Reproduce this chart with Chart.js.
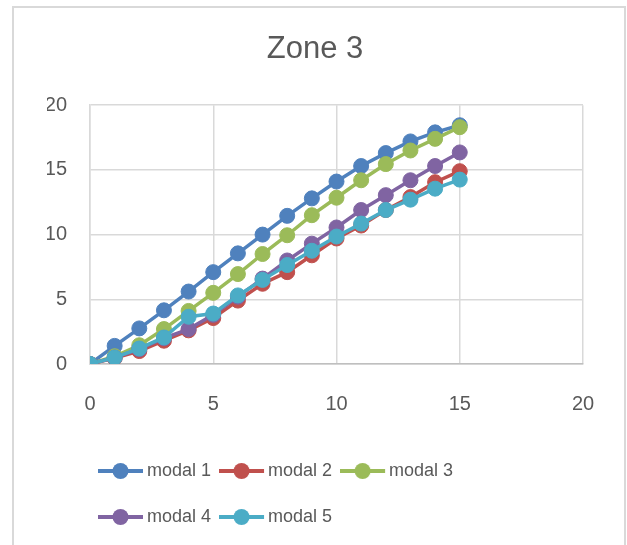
<!DOCTYPE html>
<html>
<head>
<meta charset="utf-8">
<script src="https://cdn.jsdelivr.net/npm/chart.js@4/dist/chart.umd.min.js"></script>
<style>
    html, body { margin: 0; padding: 0; background: #fff; }
    .frame {
        position: absolute;
        left: 12px;
        top: 6px;
        width: 610px;
        height: 560px;
        border: 2px solid #d9d9d9;
    }
    #chartWrap { position: absolute; left: 0; top: 0; width: 627px; height: 545px; }
</style>
</head>
<body>
<div class="frame"></div>
<div id="chartWrap"><canvas id="zoneChart" width="627" height="545"></canvas></div>
<script>
const TITLE = 'Zone 3';
const X_VALUES = [0, 1, 2, 3, 4, 5, 6, 7, 8, 9, 10, 11, 12, 13, 14, 15];
const SERIES_NAMES = ['modal 1', 'modal 2', 'modal 3', 'modal 4', 'modal 5'];
const MODAL_1 = [0, 1.4, 2.75, 4.15, 5.6, 7.1, 8.55, 10.0, 11.45, 12.8, 14.1, 15.3, 16.3, 17.2, 17.9, 18.45];
const MODAL_2 = [0, 0.45, 1.0, 1.8, 2.6, 3.55, 4.9, 6.2, 7.1, 8.4, 9.7, 10.7, 11.9, 12.9, 14.05, 14.9];
const MODAL_3 = [0, 0.6, 1.45, 2.7, 4.1, 5.5, 6.95, 8.5, 9.95, 11.5, 12.85, 14.2, 15.45, 16.5, 17.4, 18.3];
const MODAL_4 = [0, 0.5, 1.15, 2.0, 2.7, 3.8, 5.2, 6.6, 8.0, 9.3, 10.55, 11.9, 13.05, 14.2, 15.3, 16.35];
const MODAL_5 = [0, 0.5, 1.2, 2.05, 3.65, 3.9, 5.3, 6.5, 7.65, 8.75, 9.85, 10.85, 11.9, 12.7, 13.55, 14.25];
const X_TICKS = [0, 5, 10, 15, 20];
const Y_TICKS = [0, 5, 10, 15, 20];

const COLORS = ['#4f81bd', '#c0504d', '#9bbb59', '#8064a2', '#4bacc6'];
const TEXT_COLOR = '#595959';
const GRID_COLOR = '#d9d9d9';
const FONT = "'Liberation Sans', Arial, sans-serif";

const seriesValues = [MODAL_1, MODAL_2, MODAL_3, MODAL_4, MODAL_5];

// legend marker: line with a dot; drawn in the left part of a wider image
// so the label text ends up right next to it
const makeMarker = (color) => {
    const c = document.createElement('canvas');
    c.width = 60;
    c.height = 20;
    const ctx = c.getContext('2d');
    ctx.strokeStyle = color;
    ctx.lineWidth = 4;
    ctx.beginPath();
    ctx.moveTo(0, 10);
    ctx.lineTo(45, 10);
    ctx.stroke();
    ctx.fillStyle = color;
    ctx.beginPath();
    ctx.arc(22.5, 10, 8, 0, Math.PI * 2);
    ctx.fill();
    return c;
};

const markers = COLORS.map(makeMarker);

const datasets = SERIES_NAMES.map((name, i) => ({
    label: name,
    data: X_VALUES.map((x, j) => ({ x, y: seriesValues[i][j] })),
    borderColor: COLORS[i],
    backgroundColor: COLORS[i],
    pointBackgroundColor: COLORS[i],
    pointBorderColor: COLORS[i],
    pointBorderWidth: 1,
    pointRadius: 7.5,
    borderWidth: 3.5,
    tension: 0,
    order: SERIES_NAMES.length - 1 - i,
}));

new Chart(document.getElementById('zoneChart'), {
    type: 'line',
    data: { datasets },
    options: {
        responsive: false,
        animation: false,
        layout: { padding: { left: 47, right: 44, top: 0, bottom: 9 } },
        plugins: {
            tooltip: { enabled: false },
            title: {
                display: true,
                text: TITLE,
                color: TEXT_COLOR,
                font: { family: FONT, size: 31, weight: 'normal' },
                padding: { top: 31, bottom: 37 },
            },
            legend: {
                position: 'bottom',
                align: 'start',
                fullSize: false,
                labels: {
                    usePointStyle: true,
                    pointStyleWidth: 20,
                    padding: 28,
                    color: TEXT_COLOR,
                    font: { family: FONT, size: 18 },
                    generateLabels: (chart) => chart.data.datasets.map((ds, i) => ({
                        text: ds.label,
                        fillStyle: COLORS[i],
                        strokeStyle: COLORS[i],
                        fontColor: TEXT_COLOR,
                        lineWidth: 0,
                        pointStyle: markers[i],
                        hidden: false,
                        datasetIndex: i,
                    })),
                },
            },
        },
        scales: {
            x: {
                type: 'linear',
                min: 0,
                max: 20,
                afterBuildTicks: (scale) => { scale.ticks = X_TICKS.map((v) => ({ value: v })); },
                afterFit: (scale) => { scale.height = 70; },
                grid: { color: GRID_COLOR, lineWidth: 1.5, drawTicks: false },
                border: { color: '#bfbfbf', width: 1.5 },
                ticks: { color: TEXT_COLOR, padding: 28, maxRotation: 0, font: { family: FONT, size: 20 } },
            },
            y: {
                min: 0,
                max: 20,
                afterBuildTicks: (scale) => { scale.ticks = Y_TICKS.map((v) => ({ value: v })); },
                afterFit: (scale) => { scale.width = 43; },
                grid: { color: GRID_COLOR, lineWidth: 1.5, drawTicks: false },
                border: { color: GRID_COLOR, width: 1.5 },
                ticks: { color: TEXT_COLOR, padding: 23, font: { family: FONT, size: 20 } },
            },
        },
    },
});
</script>
</body>
</html>
